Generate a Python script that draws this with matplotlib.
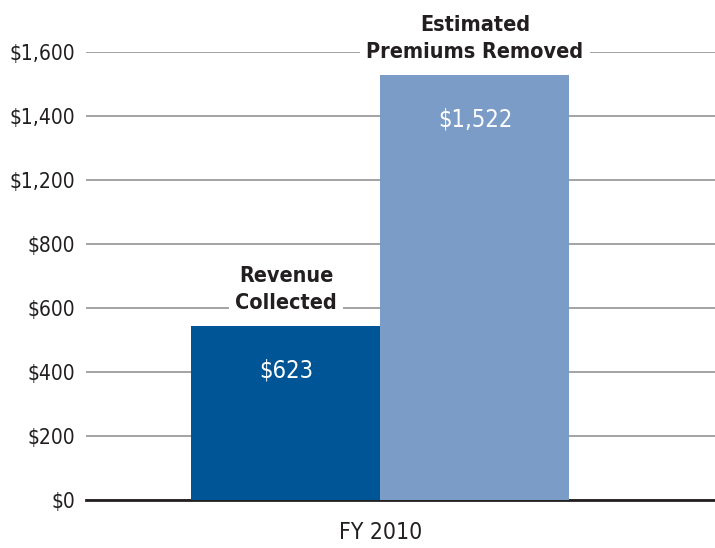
import numpy as np
import matplotlib
matplotlib.use("Agg")
import matplotlib.pyplot as plt

# data
categories = ["Revenue\nCollected", "Estimated\nPremiums Removed"]
values = [623, 1522]
value_labels = ["$623", "$1,522"]
bar_colors = ["#005596", "#7b9cc6"]
group_label = "FY 2010"

# y tick labels as printed (note: $1,000 is absent in the original, ticks evenly spaced)
tick_labels = ["$0", "$200", "$400", "$600", "$800", "$1,200", "$1,400", "$1,600"]
tick_step = 229  # value spacing between ticks

plt.rcParams['font.family'] = ['DejaVu Sans']
plt.rcParams['font.stretch'] = 'condensed'

fig = plt.figure(figsize=(7.15, 5.48), dpi=100)
ax = fig.add_axes([86 / 715, 48 / 548, 629 / 715, 448 / 548])

x = np.arange(len(values))
ax.bar(x, values, width=1.0, color=bar_colors, zorder=2)

yticks = np.arange(len(tick_labels)) * tick_step
ax.set_ylim(0, yticks[-1])
ax.set_xlim(-1.058, 2.270)
ax.set_yticks(yticks)
ax.set_yticklabels(tick_labels, fontsize=15, color="#231f20")
ax.tick_params(axis="y", length=0, pad=8)

ax.set_xticks([x.mean()])
ax.set_xticklabels([group_label], fontsize=16.5, color="#231f20")
ax.tick_params(axis="x", length=0, pad=15)

for s in ax.spines.values():
    s.set_visible(False)

ax.set_axisbelow(True)
ax.yaxis.grid(True, color="#9c9c9e", lw=1.3)
ax.axhline(0, color="#231f20", lw=2.0, zorder=1.5, clip_on=False)

# category labels above bars, white box hides the gridline behind them
for xi, v, name in zip(x, values, categories):
    ax.annotate(name, xy=(xi, v), xytext=(0, 9), textcoords="offset points",
                ha="center", va="bottom", fontsize=15.5, fontweight="bold",
                color="#231f20", linespacing=1.45, annotation_clip=False,
                bbox=dict(boxstyle="square,pad=0.3", fc="white", ec="none"))

# values inside bars
for xi, v, lab in zip(x, values, value_labels):
    ax.annotate(lab, xy=(xi, v), xytext=(0, -32), textcoords="offset points",
                ha="center", va="center", fontsize=17, color="white")

fig.savefig("out.png", dpi=100)
